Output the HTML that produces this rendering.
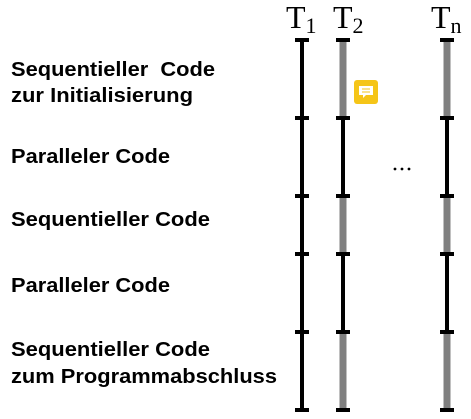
<!DOCTYPE html>
<html><head><meta charset="utf-8"><style>html,body{margin:0;padding:0;background:#fff}svg{display:block}</style></head>
<body>
<svg width="471" height="419" viewBox="0 0 471 419" xmlns="http://www.w3.org/2000/svg">
<g font-family="Liberation Sans, Arial, sans-serif" font-weight="bold" font-size="20" fill="#000" lengthAdjust="spacingAndGlyphs">
<text x="11" y="76" xml:space="preserve" textLength="204" lengthAdjust="spacingAndGlyphs">Sequentieller  Code</text>
<text x="11" y="102" textLength="182" lengthAdjust="spacingAndGlyphs">zur Initialisierung</text>
<text x="11" y="163" textLength="159" lengthAdjust="spacingAndGlyphs">Paralleler Code</text>
<text x="11" y="226" textLength="199" lengthAdjust="spacingAndGlyphs">Sequentieller Code</text>
<text x="11" y="292" textLength="159" lengthAdjust="spacingAndGlyphs">Paralleler Code</text>
<text x="11" y="356" textLength="199" lengthAdjust="spacingAndGlyphs">Sequentieller Code</text>
<text x="11" y="383" textLength="266" lengthAdjust="spacingAndGlyphs">zum Programmabschluss</text>
</g>
<g font-family="Liberation Serif, serif" font-size="32" fill="#000">
<text x="286" y="28">T<tspan font-size="22" dy="5">1</tspan></text>
<text x="333" y="28">T<tspan font-size="22" dy="5">2</tspan></text>
<text x="431" y="28">T<tspan font-size="22" dy="5">n</tspan></text>
</g>
<line x1="302" y1="39" x2="302" y2="411" stroke="#000" stroke-width="4"/>
<g stroke-width="7" stroke="#808080">
<line x1="343" y1="39" x2="343" y2="118"/>
<line x1="343" y1="196" x2="343" y2="254"/>
<line x1="343" y1="332" x2="343" y2="411"/>
<line x1="447" y1="39" x2="447" y2="118"/>
<line x1="447" y1="196" x2="447" y2="254"/>
<line x1="447" y1="332" x2="447" y2="411"/>
</g>
<g stroke-width="4" stroke="#000">
<line x1="343" y1="118" x2="343" y2="196"/>
<line x1="343" y1="254" x2="343" y2="332"/>
<line x1="447" y1="118" x2="447" y2="196"/>
<line x1="447" y1="254" x2="447" y2="332"/>
</g>
<g fill="#000">
<rect x="295" y="38" width="14" height="4"/><rect x="336" y="38" width="14" height="4"/><rect x="440" y="38" width="14" height="4"/>
<rect x="295" y="116" width="14" height="4"/><rect x="336" y="116" width="14" height="4"/><rect x="440" y="116" width="14" height="4"/>
<rect x="295" y="194" width="14" height="4"/><rect x="336" y="194" width="14" height="4"/><rect x="440" y="194" width="14" height="4"/>
<rect x="295" y="252" width="14" height="4"/><rect x="336" y="252" width="14" height="4"/><rect x="440" y="252" width="14" height="4"/>
<rect x="295" y="330" width="14" height="4"/><rect x="336" y="330" width="14" height="4"/><rect x="440" y="330" width="14" height="4"/>
<rect x="295" y="408" width="14" height="4"/><rect x="336" y="408" width="14" height="4"/><rect x="440" y="408" width="14" height="4"/>
</g>
<g fill="#000"><circle cx="395" cy="169" r="1.4"/><circle cx="402" cy="169" r="1.4"/><circle cx="409" cy="169" r="1.4"/></g>
<rect x="354" y="80" width="24" height="24" rx="3" fill="#f5c518"/>
<path d="M359 86 h14 v9 h-7 l-3 3 v-3 h-4 z" fill="#fff"/>
<line x1="362" y1="89" x2="370" y2="89" stroke="#f5c518" stroke-width="1"/>
<line x1="362" y1="92" x2="370" y2="92" stroke="#f5c518" stroke-width="1"/>
</svg>
</body></html>
